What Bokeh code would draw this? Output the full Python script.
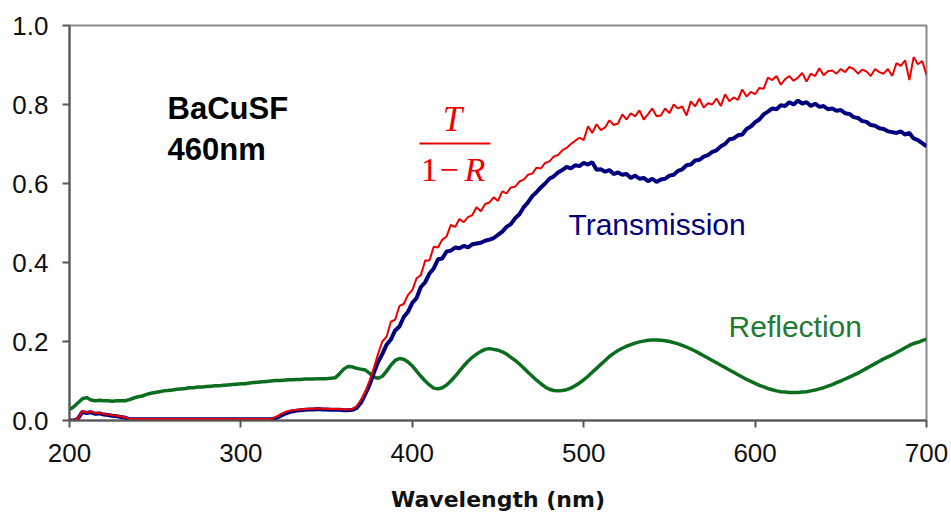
from bokeh.plotting import figure
from bokeh.models import Range1d, FixedTicker, NumeralTickFormatter, Label, ColumnDataSource
from bokeh.embed import file_html
from bokeh.resources import INLINE

# wavelength grid (nm), 2.5 nm sampling
wavelength = [200 + 2.5 * i for i in range(201)]

# T/(1-R)  (red)
t_over_1mr = [
    0.0, 0.0, 0.006, 0.024, 0.02, 0.023, 0.018, 0.02, 0.016, 0.015,
    0.013, 0.012, 0.01, 0.008, 0.004, 0.004, 0.004, 0.004, 0.004, 0.004,
    0.004, 0.004, 0.004, 0.004, 0.004, 0.004, 0.004, 0.004, 0.004, 0.004,
    0.004, 0.004, 0.004, 0.004, 0.004, 0.004, 0.004, 0.004, 0.004, 0.004,
    0.004, 0.004, 0.004, 0.004, 0.004, 0.004, 0.004, 0.004, 0.008, 0.014,
    0.02, 0.024, 0.026, 0.027, 0.028, 0.029, 0.03, 0.03, 0.031, 0.03,
    0.03, 0.029, 0.029, 0.029, 0.028, 0.028, 0.029, 0.036, 0.052, 0.072,
    0.1, 0.132, 0.168, 0.2, 0.212, 0.25, 0.255, 0.29, 0.295, 0.318,
    0.33, 0.36, 0.368, 0.405, 0.405, 0.44, 0.438, 0.458, 0.466, 0.495,
    0.49, 0.51, 0.502, 0.515, 0.52, 0.54, 0.53, 0.548, 0.552, 0.565,
    0.556, 0.58, 0.575, 0.59, 0.592, 0.605, 0.61, 0.622, 0.625, 0.64,
    0.638, 0.652, 0.656, 0.668, 0.672, 0.684, 0.69, 0.7, 0.708, 0.716,
    0.71, 0.745, 0.728, 0.75, 0.735, 0.742, 0.76, 0.748, 0.752, 0.775,
    0.762, 0.778, 0.77, 0.785, 0.762, 0.775, 0.79, 0.77, 0.772, 0.79,
    0.778, 0.8, 0.79, 0.795, 0.772, 0.808, 0.795, 0.815, 0.792, 0.803,
    0.8, 0.815, 0.796, 0.826, 0.808, 0.818, 0.812, 0.838, 0.82, 0.832,
    0.826, 0.842, 0.84, 0.868, 0.862, 0.872, 0.85, 0.864, 0.872, 0.86,
    0.868, 0.88, 0.858, 0.878, 0.872, 0.892, 0.874, 0.884, 0.886, 0.878,
    0.89, 0.882, 0.895, 0.89, 0.878, 0.888, 0.884, 0.872, 0.89, 0.882,
    0.878, 0.89, 0.872, 0.905, 0.898, 0.912, 0.862, 0.92, 0.902, 0.91,
    0.875,
]

# Transmission (navy)
transmission = [
    0.0, 0.0, 0.005, 0.022, 0.019, 0.021, 0.017, 0.018, 0.015, 0.014,
    0.012, 0.011, 0.009, 0.007, 0.003, 0.003, 0.003, 0.003, 0.003, 0.003,
    0.003, 0.003, 0.003, 0.003, 0.003, 0.003, 0.003, 0.003, 0.003, 0.003,
    0.003, 0.003, 0.003, 0.003, 0.003, 0.003, 0.003, 0.003, 0.003, 0.003,
    0.003, 0.003, 0.003, 0.003, 0.003, 0.003, 0.003, 0.003, 0.005, 0.01,
    0.016, 0.02, 0.023, 0.025, 0.026, 0.027, 0.028, 0.028, 0.029, 0.028,
    0.028, 0.027, 0.027, 0.027, 0.026, 0.026, 0.027, 0.032, 0.045, 0.066,
    0.09, 0.12, 0.148, 0.168, 0.192, 0.205, 0.228, 0.238, 0.262, 0.275,
    0.298, 0.31, 0.338, 0.35, 0.372, 0.385, 0.408, 0.41, 0.428, 0.43,
    0.438, 0.436, 0.442, 0.438, 0.446, 0.448, 0.45, 0.455, 0.458, 0.462,
    0.47, 0.478, 0.49, 0.497, 0.512, 0.522, 0.54, 0.552, 0.568, 0.578,
    0.59, 0.6, 0.612, 0.618, 0.628, 0.634, 0.642, 0.638, 0.646, 0.644,
    0.652, 0.648, 0.654, 0.635, 0.636, 0.63, 0.634, 0.624, 0.628, 0.622,
    0.624, 0.614, 0.62, 0.612, 0.614, 0.606, 0.612, 0.604, 0.61, 0.612,
    0.62, 0.622, 0.632, 0.636, 0.646, 0.648, 0.658, 0.66, 0.668, 0.672,
    0.68, 0.684, 0.694, 0.7, 0.712, 0.714, 0.722, 0.724, 0.738, 0.744,
    0.755, 0.762, 0.775, 0.782, 0.79, 0.788, 0.798, 0.796, 0.806, 0.8,
    0.81, 0.802, 0.806, 0.796, 0.802, 0.794, 0.796, 0.788, 0.79, 0.784,
    0.786, 0.778, 0.776, 0.768, 0.766, 0.758, 0.756, 0.748, 0.746, 0.74,
    0.738, 0.732, 0.73, 0.728, 0.732, 0.724, 0.728, 0.714, 0.71, 0.702,
    0.694,
]

# Reflection (green)
reflection = [
    0.028, 0.035, 0.045, 0.055, 0.058, 0.052, 0.05, 0.051, 0.05, 0.05,
    0.049, 0.05, 0.05, 0.05, 0.053, 0.057, 0.06, 0.062, 0.066, 0.069,
    0.071, 0.073, 0.075, 0.076, 0.077, 0.079, 0.08, 0.081, 0.083, 0.083,
    0.085, 0.085, 0.086, 0.087, 0.088, 0.088, 0.089, 0.09, 0.091, 0.092,
    0.093, 0.093, 0.095, 0.096, 0.097, 0.098, 0.099, 0.1, 0.101, 0.101,
    0.102, 0.103, 0.103, 0.104, 0.104, 0.105, 0.105, 0.105, 0.106, 0.106,
    0.106, 0.107, 0.108, 0.118, 0.13, 0.137, 0.136, 0.132, 0.13, 0.128,
    0.12, 0.11, 0.107, 0.112, 0.125, 0.14, 0.152, 0.157, 0.155, 0.148,
    0.138, 0.125, 0.112, 0.1, 0.09, 0.082, 0.08, 0.083, 0.09, 0.1,
    0.112, 0.125, 0.138, 0.15, 0.16, 0.168, 0.175, 0.18, 0.182, 0.18,
    0.178, 0.174, 0.168, 0.16, 0.152, 0.143, 0.133, 0.122, 0.112, 0.102,
    0.093, 0.085, 0.079, 0.076, 0.075, 0.076, 0.078, 0.082, 0.088, 0.095,
    0.103, 0.112, 0.122, 0.132, 0.142, 0.152, 0.162, 0.17, 0.177, 0.183,
    0.188, 0.192, 0.196, 0.199, 0.201, 0.203, 0.204, 0.204, 0.203, 0.202,
    0.2, 0.197, 0.194, 0.19, 0.186, 0.181, 0.176, 0.17, 0.164, 0.158,
    0.152, 0.146, 0.14, 0.134, 0.128, 0.122, 0.116, 0.11, 0.104, 0.099,
    0.094, 0.089, 0.085, 0.081, 0.078, 0.075, 0.073, 0.072, 0.071, 0.071,
    0.071, 0.072, 0.073, 0.075, 0.077, 0.08, 0.083, 0.087, 0.091, 0.096,
    0.1, 0.105, 0.11, 0.115, 0.12, 0.126, 0.132, 0.138, 0.144, 0.15,
    0.156, 0.161, 0.166, 0.172, 0.178, 0.184, 0.19, 0.195, 0.198, 0.202,
    0.206,
]

x_ticks = [200, 300, 400, 500, 600, 700]
y_ticks = [0.0, 0.2, 0.4, 0.6, 0.8, 1.0]

src = ColumnDataSource(dict(x=wavelength, t=transmission, r=reflection, q=t_over_1mr))

p = figure(width=951, height=515, x_range=Range1d(200, 700), y_range=Range1d(0, 1),
           output_backend="svg", toolbar_location=None,
           min_border_left=69, min_border_right=25, min_border_top=25, min_border_bottom=95)

p.background_fill_color = "white"
p.border_fill_color = "white"
p.outline_line_color = "#8a8a8a"
p.outline_line_width = 2
p.xgrid.visible = False
p.ygrid.visible = False

GREEN = "#0b6e1f"
NAVY = "#00007f"
RED = "#ee0000"

p.line("x", "r", source=src, line_color=GREEN, line_width=3.5)
p.line("x", "t", source=src, line_color=NAVY, line_width=4)
p.line("x", "q", source=src, line_color=RED, line_width=2)

for ax in (p.xaxis[0], p.yaxis[0]):
    ax.axis_line_color = "#555555"
    ax.axis_line_width = 2
    ax.major_tick_line_color = "#555555"
    ax.major_tick_line_width = 2
    ax.major_tick_in = 0
    ax.major_tick_out = 7
    ax.minor_tick_line_color = None
    ax.major_label_text_font = "Liberation Sans"
    ax.major_label_text_font_size = "26px"
    ax.major_label_text_color = "#111111"

p.xaxis.ticker = FixedTicker(ticks=x_ticks)
p.yaxis.ticker = FixedTicker(ticks=y_ticks)
p.yaxis.formatter = NumeralTickFormatter(format="0.0")
p.xaxis.major_label_standoff = 16
p.yaxis.major_label_standoff = 14

p.xaxis.axis_label = "Wavelength (nm)"
p.xaxis.axis_label_text_font = "DejaVu Sans"
p.xaxis.axis_label_text_font_style = "bold"
p.xaxis.axis_label_text_font_size = "22px"
p.xaxis.axis_label_text_color = "#111111"
p.xaxis.axis_label_standoff = 22

# annotations
p.add_layout(Label(x=257.2, y=0.789, text="BaCuSF", text_font="Liberation Sans",
                   text_font_style="bold", text_font_size="31px", text_color="black",
                   text_baseline="alphabetic"))
p.add_layout(Label(x=257.2, y=0.687, text="460nm", text_font="Liberation Sans",
                   text_font_style="bold", text_font_size="31px", text_color="black",
                   text_baseline="alphabetic"))

p.add_layout(Label(x=423.5, y=0.761, text="T", text_font="Liberation Serif",
                   text_font_style="italic", text_font_size="35px", text_color=RED,
                   text_align="center", text_baseline="alphabetic"))
p.segment(x0=[404.2], y0=[0.701], x1=[445.6], y1=[0.701], line_color=RED, line_width=2)
p.add_layout(Label(x=405.0, y=0.635, text="1", text_font="Liberation Serif",
                   text_font_size="34px", text_color=RED, text_baseline="alphabetic"))
p.add_layout(Label(x=421.5, y=0.635, text="\u2212", text_font="Liberation Serif",
                   text_font_size="34px", text_color=RED, text_align="center",
                   text_baseline="alphabetic"))
p.add_layout(Label(x=430.5, y=0.635, text="R", text_font="Liberation Serif",
                   text_font_style="italic", text_font_size="34px", text_color=RED,
                   text_baseline="alphabetic"))

p.add_layout(Label(x=491.1, y=0.495, text="Transmission", text_font="Liberation Sans",
                   text_font_size="30px", text_color=NAVY, text_baseline="alphabetic"))
p.add_layout(Label(x=584.5, y=0.237, text="Reflection", text_font="Liberation Sans",
                   text_font_size="30px", text_color="#1f7a32", text_baseline="alphabetic"))

open("out.html", "w").write(file_html(p, INLINE))
